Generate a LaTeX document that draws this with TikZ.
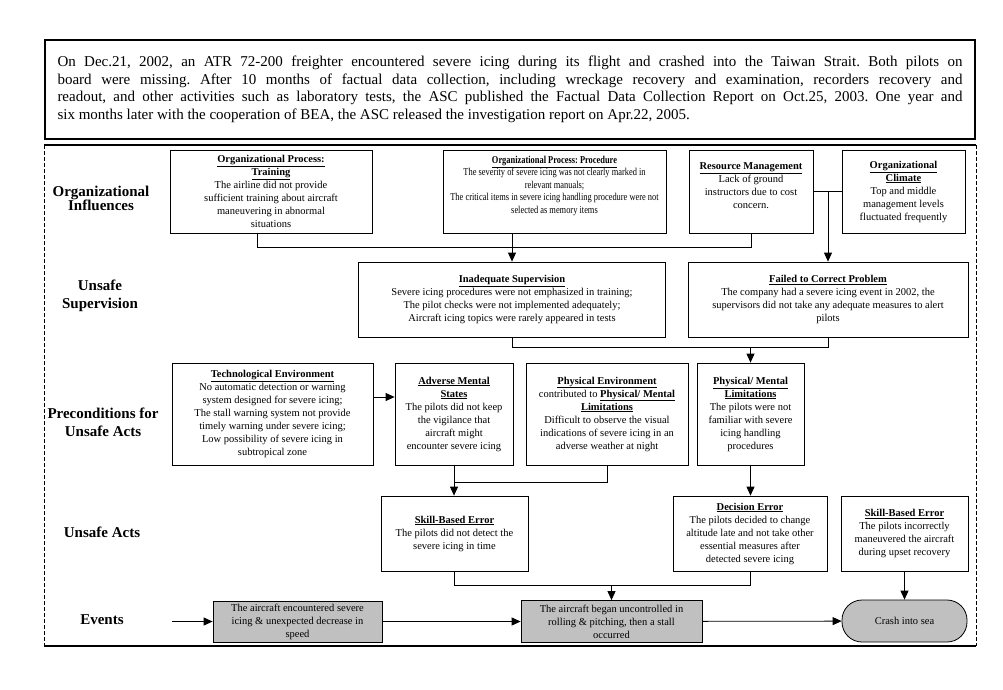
\documentclass[tikz,border=0pt]{standalone}
\usepackage{fontspec}
\setmainfont{Liberation Serif}
\frenchspacing
\usetikzlibrary{arrows.meta}
\definecolor{evfill}{HTML}{C0C0C0}
\newcommand{\boxtitle}[1]{\underline{\textbf{#1}}}

\begin{document}
\begin{tikzpicture}[x=1pt,y=-1pt,
    every node/.style={font=\fontsize{10.5}{13}\selectfont},
    wh/.style 2 args={minimum width=#1pt, minimum height=#2pt},
    cause/.style={draw, line width=0.8pt, align=center, inner sep=2pt},
    event/.style={draw, fill=evfill, line width=0.8pt, align=center, inner sep=1pt,
                  font=\fontsize{10.5}{13}\selectfont},
    level/.style={font=\fontsize{15}{18}\selectfont\bfseries, align=center},
    link/.style={line width=0.8pt},
    arr/.style={link, -{Triangle[length=9pt,width=8pt]}},
  ]
  \useasboundingbox (0,0) rectangle (1003,689);

  % summary of the accident
  \node[draw, line width=2.5pt, wh={930}{99}, text width=905pt, align=justify,
        font=\fontsize{15}{17.5}\selectfont] (intro) at (510,89.5)
       {On Dec.21, 2002, an ATR 72-200 freighter encountered  severe icing during its flight and crashed into the Taiwan Strait. Both pilots on\linebreak
        board were missing. After 10 months of factual data collection, including wreckage recovery and examination, recorders recovery and\linebreak
        readout, and other activities such as laboratory tests, the ASC published the Factual Data Collection Report on Oct.25, 2003. One year and\linebreak
        six months later with the cooperation of BEA, the ASC released the investigation report on Apr.22, 2005.};

  % frame of the levels
  \draw[dash pattern=on 4pt off 2pt, line width=0.6pt] (44,145) -- (44,646) (976,145) -- (976,646);
  \draw[line width=2.5pt] (44,145) -- (976,145);
  \draw[line width=2.5pt] (44,646) -- (976,646);

  % level names
  \node[level, font=\fontsize{15}{14}\selectfont\bfseries] (lorg) at (101,198) {Organizational\\Influences};
  \node[level] (lsup) at (100,296) {Unsafe\\Supervision};
  \node[level] (lpre) at (103,422) {Preconditions for\\Unsafe Acts};
  \node[level] (lact) at (102,532) {Unsafe Acts};
  \node[level] (lev)  at (102,620) {Events};

  % organizational influences
  \node[cause, wh={202}{83}] (train) at (271,191.5)
       {\boxtitle{Organizational Process:}\\\boxtitle{Training}\\The airline did not provide\\sufficient training about aircraft\\maneuvering in abnormal\\situations};
  \node[cause, wh={223}{83}, text depth=14pt,
        font=\fontsize{10.5}{12.5}\selectfont\addfontfeatures{FakeStretch=0.8}] (proc) at (554.5,191.5)
       {\boxtitle{Organizational Process: Procedure}\\The severity of  severe icing was not clearly marked in\\relevant manuals;\\The critical items in severe icing handling procedure were not\\selected as memory items};
  \node[cause, wh={124}{83}, text depth=12pt] (resm) at (751,191.5)
       {\boxtitle{Resource Management}\\Lack of ground\\instructors due to cost\\concern.};
  \node[cause, wh={123}{83}] (clim) at (903.5,191.5)
       {\boxtitle{Organizational}\\\boxtitle{Climate}\\Top and middle\\management levels\\fluctuated frequently};

  % unsafe supervision
  \node[cause, wh={307}{75}] (insup) at (512,299.5)
       {\boxtitle{Inadequate Supervision}\\Severe icing procedures were not emphasized in training;\\The pilot checks were not implemented adequately;\\Aircraft icing topics were rarely appeared in tests};
  \node[cause, wh={280}{75}] (fail) at (828,299.5)
       {\boxtitle{Failed to Correct Problem}\\The company had a severe icing event in 2002, the\\supervisors did not take any adequate measures to alert\\pilots};

  % preconditions
  \node[cause, wh={201}{102}] (tech) at (272.5,414)
       {\boxtitle{Technological Environment}\\No automatic  detection or warning\\system designed for severe icing;\\The stall warning system not provide\\timely warning under severe icing;\\Low possibility of severe icing in\\subtropical zone};
  \node[cause, wh={118}{102}] (adv) at (454,414)
       {\boxtitle{Adverse Mental}\\\boxtitle{States}\\The pilots did not keep\\the vigilance that\\aircraft might\\encounter severe icing};
  \node[cause, wh={162}{102}] (phys) at (607,414)
       {\boxtitle{Physical Environment}\\contributed to \boxtitle{Physical/ Mental}\\\boxtitle{Limitations}\\Difficult to observe the visual\\indications of severe icing in an\\adverse weather at night};
  \node[cause, wh={107}{102}] (pml) at (750.5,414)
       {\boxtitle{Physical/ Mental}\\\boxtitle{Limitations}\\The pilots were not\\familiar with severe\\icing handling\\procedures};

  % unsafe acts
  \node[cause, wh={147}{75}] (sbe1) at (454.5,533.5)
       {\boxtitle{Skill-Based Error}\\The pilots did not detect the\\severe icing in time};
  \node[cause, wh={154}{75}] (dec) at (750,533.5)
       {\boxtitle{Decision Error}\\The pilots decided to change\\altitude late and not take other\\essential measures  after\\detected severe icing};
  \node[cause, wh={127}{75}] (sbe2) at (904.5,533.5)
       {\boxtitle{Skill-Based Error}\\The pilots incorrectly\\maneuvered the aircraft\\during upset recovery};

  % events
  \node[event, wh={169}{41}] (ev1) at (297.5,621.5)
       {The aircraft encountered severe\\icing \& unexpected decrease in\\speed};
  \node[event, wh={181}{42}] (ev2) at (611.5,621.5)
       {The aircraft began uncontrolled in\\rolling \& pitching, then a stall\\occurred};
  \node[event, wh={125}{42}, rounded corners=20pt] (crash) at (904.5,621)
       {Crash into sea};

  % connectors
  \coordinate (j1) at (512,247);
  \draw[link] ([xshift=-14pt]train.south) |- (j1);
  \draw[link] (resm.south) |- (j1);
  \draw[arr] (insup.north |- proc.south) -- (insup.north);
  \draw[link] (resm.east) -- (clim.west);
  \draw[arr] (resm.east -| fail.north) -- (fail.north);

  \coordinate (j2) at (750.5,347);
  \draw[link] (insup.south) -- ++(0,10) -| (fail.south);
  \draw[arr] (j2) -- (pml.north);
  \draw[arr] ([yshift=17pt]tech.east) -- ([yshift=17pt]adv.west);

  \coordinate (j3) at (454,482);
  \draw[link] (phys.south) |- (j3);
  \draw[arr] (adv.south) -- (adv.south |- sbe1.north);
  \draw[arr] (pml.south) -- (pml.south |- dec.north);

  \coordinate (j4) at (611.5,585);
  \draw[link] (sbe1.south) -- ++(0,14) -| (dec.south);
  \draw[arr] (j4) -- (ev2.north);
  \draw[arr] (sbe2.south) -- (crash.north);

  \coordinate (start) at (172,621.5);
  \draw[arr] (start) -- (ev1.west);
  \draw[arr] (ev1) -- (ev2);
  \draw[arr] (ev2) -- (crash);
\end{tikzpicture}
\end{document}
